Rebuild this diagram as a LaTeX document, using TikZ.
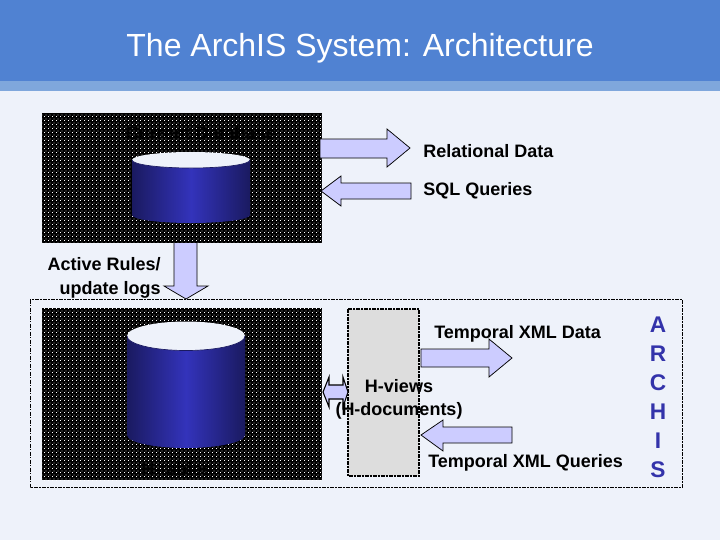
\documentclass[tikz,border=0pt]{standalone}
\usepackage{fontspec}
\setmainfont{Liberation Sans}
\usetikzlibrary{patterns}
\pgfdeclarepatternformonly{staggereddots}{\pgfqpoint{0pt}{0pt}}{\pgfqpoint{3pt}{3pt}}{\pgfqpoint{3pt}{3pt}}{%
  \pgfpathrectangle{\pgfqpoint{0pt}{0pt}}{\pgfqpoint{0.75pt}{0.75pt}}%
  \pgfpathrectangle{\pgfqpoint{1.5pt}{1.5pt}}{\pgfqpoint{0.75pt}{0.75pt}}%
  \pgfusepath{fill}}
\definecolor{pagebg}{HTML}{EEF2FA}
\definecolor{bandA}{HTML}{5082D2}
\definecolor{bandB}{HTML}{7FA7DC}
\definecolor{arrowfill}{HTML}{CCCCFF}
\definecolor{dbdark}{HTML}{1A1A60}
\definecolor{dbmid}{HTML}{3333BB}
\definecolor{viewgray}{HTML}{DDDDDD}
\definecolor{archis}{HTML}{3333AA}
\tikzset{
  x=0.75pt,y=-0.75pt,
  label text/.style={font=\bfseries\fontsize{13.5pt}{18pt}\selectfont,text=black,inner sep=0pt},
  flow/.style={draw=black,line width=0.55pt,fill=arrowfill,line join=miter},
  dotted panel/.style={draw=none,fill=black},
  panel dots/.style={pattern=staggereddots,pattern color=white},
  archis letter/.style={font=\bfseries\fontsize{17pt}{20pt}\selectfont,text=archis,inner sep=0pt},
  dashdot frame/.style={draw=black,line width=0.5pt,dash pattern=on 3pt off 1pt on 1pt off 1pt},
}
\begin{document}
\begin{tikzpicture}
\useasboundingbox (0,0) rectangle (720,540);
\fill[pagebg] (0,0) rectangle (720,540);
\fill[bandA] (0,0) rectangle (720,81);
\fill[bandB] (0,81) rectangle (720,91);
\node[font=\fontsize{24pt}{28pt}\selectfont,text=white,inner sep=0pt] (title) at (360,48) {The ArchIS System: Architecture};

% outer ArchIS frame
\draw[dashdot frame] (30,299.5) rectangle (682.5,487.5);

% upper panel
\fill[dotted panel] (42,113) rectangle (322,243);
\fill[panel dots] (42,113) rectangle (322,243);
\node[label text] (curdb) at (201,133) {Current Database};
\path[left color=dbdark,right color=dbdark,middle color=dbmid]
  (132,160) -- (132,215) arc[start angle=180,end angle=0,x radius=59,y radius=8] -- (250,160) -- cycle;
\fill[pagebg] (191,160) ellipse[x radius=59,y radius=8];
\draw[dbdark,line width=0.5pt] (132,160) arc[start angle=180,end angle=0,x radius=59,y radius=8];

% lower panel
\fill[dotted panel] (42,308) rectangle (322,480);
\fill[panel dots] (42,308) rectangle (322,480);
\path[left color=dbdark,right color=dbdark,middle color=dbmid]
  (127,336) -- (127,435) arc[start angle=180,end angle=0,x radius=59,y radius=13] -- (245,336) -- cycle;
\fill[pagebg] (186,336) ellipse[x radius=59,y radius=14.5];
\draw[dbdark,line width=0.5pt] (127,336) arc[start angle=180,end angle=0,x radius=59,y radius=14.5];
\node[label text] (htables) at (177,469) {H-tables};

% H-views box
\fill[viewgray] (348,309) rectangle (419,476);
\draw[dashdot frame,line width=0.9pt] (348,309) rectangle (419,476);

% arrows
\draw[flow] (320,139) -- (387,139) -- (387,129) -- (410,148) -- (387,167) -- (387,158) -- (320,158) -- cycle;
\draw[flow] (321,191) -- (341,176) -- (341,183) -- (411,183) -- (411,199) -- (341,199) -- (341,206) -- cycle;
\draw[flow] (174,243) -- (174,286) -- (164,286) -- (186,299) -- (208,286) -- (197,286) -- (197,243);
\draw[flow] (421,349) -- (489,349) -- (489,339) -- (512,358) -- (489,377) -- (489,367) -- (421,367) -- cycle;
\draw[flow] (421,435) -- (443,420) -- (443,427) -- (512,427) -- (512,443) -- (443,443) -- (443,451) -- cycle;
\draw[flow,line width=0.8pt] (323,392) -- (329,377) -- (329,385) -- (343,385) -- (343,377) -- (348,392) -- (343,407) -- (343,399) -- (329,399) -- (329,407) -- cycle;

% labels
\node[label text,anchor=west] (reldata) at (423,151) {Relational Data};
\node[label text,anchor=west] (sqlq) at (423,191) {SQL Queries};
\node[label text,align=right,anchor=east] (rules) at (161,277.5) {Active Rules/\\update logs};
\node[label text,anchor=west] (txd) at (434,333.5) {Temporal XML Data};
\node[label text] (hviews) at (399,386) {H-views};
\node[label text] (hdocs) at (399,411) {(H-documents)};
\node[label text,anchor=west] (txq) at (428,463) {Temporal XML Queries};
\foreach \ch/\yy/\nm in {A/325/la,R/354/lb,C/383/lc,H/412/ld,I/441/le,S/470/lf}
  \node[archis letter] (\nm) at (658,\yy) {\ch};
\end{tikzpicture}
\end{document}
